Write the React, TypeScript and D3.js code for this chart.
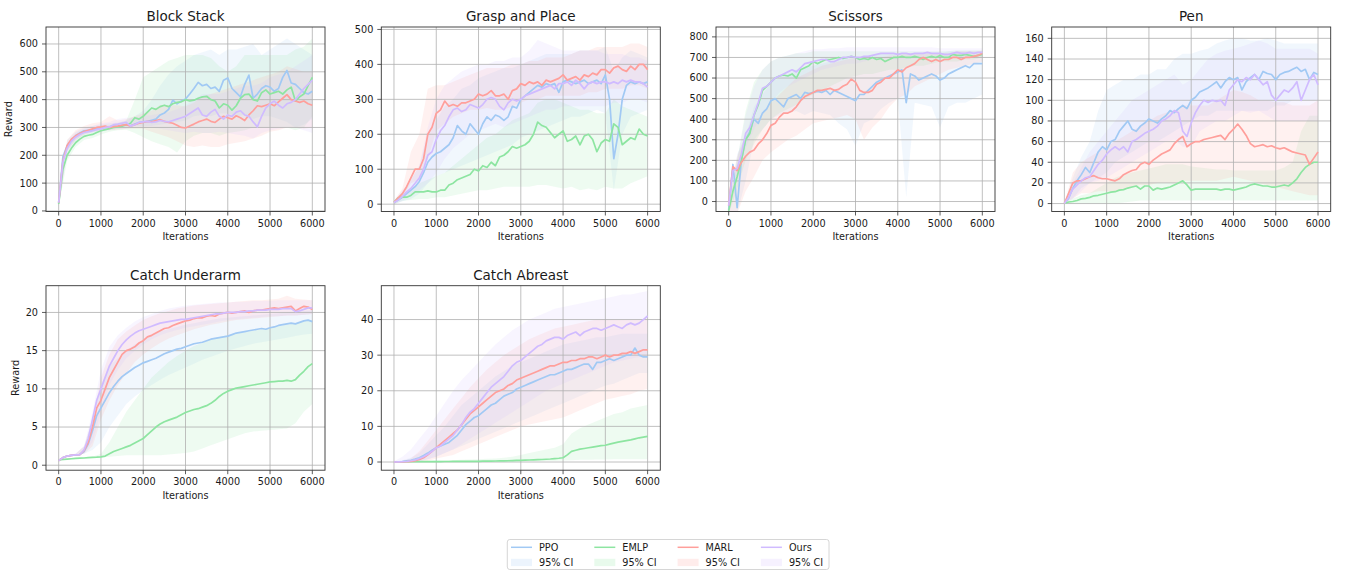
import React from 'react';
import * as d3 from 'd3';

// iteration grids: mean curves every 100, CI bands every 200
const ITERS = d3.range(0, 6001, 100);
const CI_ITERS = d3.range(0, 6001, 200);
const X_TICKS = [0, 1000, 2000, 3000, 4000, 5000, 6000];

const SERIES = ['PPO', 'EMLP', 'MARL', 'Ours'];
const COLORS = ['#a1c9f4', '#8de5a1', '#ff9f9b', '#d0bbff'];

// ---- Block Stack ----
const blockPPO = [30,195,235,255,270,280,288,290,292,295, 298,300,302,305,303,308,310,306,312,318, 320,322,326,330,345,352,365,398,385,395, 402,420,440,462,450,455,440,445,430,470, 478,440,425,410,455,488,405,420,440,450, 445,430,440,480,505,460,455,440,425,420, 430];
const blockEMLP = [25,150,200,225,245,258,268,272,275,282, 288,292,296,300,302,305,310,315,335,330, 340,355,370,365,375,380,375,385,390,392, 400,395,398,405,410,412,400,395,370,385, 380,362,378,405,418,420,400,395,425,435, 420,425,430,420,435,445,395,410,420,450, 480];
const blockMARL = [30,180,235,258,270,278,285,290,295,300, 302,305,300,303,305,308,310,305,310,315, 318,322,320,325,328,322,318,315,308,300, 298,305,312,320,325,330,322,318,330,340, 335,330,342,335,325,345,360,378,375,380, 385,378,392,405,418,400,395,390,395,385, 380];
const blockOurs = [30,175,225,250,265,275,282,285,288,292, 295,300,302,310,312,315,318,305,310,318, 320,322,318,320,325,322,320,325,330,335, 340,350,360,370,345,340,355,365,340,330, 345,340,355,360,345,340,320,302,340,370, 385,395,380,370,385,390,400,420,440,455, 470];
const blockPPOLo = [20,215,255,275,282,288,292,295,300,305, 305,305,310,315,320,325,340,345,340,350, 350,340,345,330,340,340,330,320,300,310, 330];
const blockPPOHi = [40,255,285,300,305,310,315,318,325,340, 360,400,450,490,520,540,560,570,580,560, 580,580,590,600,560,580,600,620,600,580, 560];
const blockEMLPLo = [15,180,230,255,262,275,285,290,292,280, 265,250,240,230,210,250,270,280,280,270, 280,285,290,300,300,300,300,300,290,300, 340];
const blockEMLPHi = [35,230,265,285,290,302,308,315,325,400, 480,500,520,540,550,560,560,560,550,520, 500,520,560,560,560,560,560,560,580,590, 620];
const blockMARLLo = [20,215,255,275,285,290,290,292,295,295, 295,285,275,265,250,235,230,235,230,230, 240,245,250,260,270,285,290,300,300,295, 300];
const blockMARLHi = [40,255,290,305,315,320,340,325,330,340, 350,360,380,380,380,375,390,410,420,430, 440,450,460,470,480,490,500,520,510,500, 500];
const blockOursLo = [20,205,250,270,280,285,290,295,295,300, 300,300,295,290,285,280,285,280,280,285, 280,275,270,260,280,290,295,300,300,290, 280];
const blockOursHi = [40,245,280,295,305,315,320,330,335,335, 340,345,350,355,365,380,400,420,420,420, 430,440,450,450,460,480,490,500,520,540, 560];

// ---- Grasp and Place ----
const graspPPO = [5,12,20,30,40,50,65,90,120,135, 145,150,160,170,190,225,210,200,230,215, 200,230,250,240,255,250,240,250,280,275, 300,310,320,330,340,335,345,340,345,320, 350,355,350,345,350,355,345,350,355,345, 370,300,130,200,300,340,350,345,350,345, 350];
const graspEMLP = [5,18,20,20,25,35,35,35,38,35, 35,40,40,55,60,70,75,80,85,100, 95,110,105,120,110,135,140,150,165,160, 165,170,180,200,235,225,220,205,190,200, 210,180,185,195,170,195,200,185,150,175, 185,180,230,220,170,180,190,185,215,200, 195];
const graspMARL = [5,18,30,50,75,100,100,130,200,220, 260,270,295,280,285,280,290,290,295,300, 315,310,315,325,310,310,315,300,325,330, 345,340,350,345,350,340,355,350,355,360, 370,355,360,365,355,370,365,375,370,385, 385,375,390,395,385,380,395,385,400,400, 385];
const graspOurs = [5,12,22,35,45,60,75,100,140,150, 185,210,225,250,270,275,265,270,285,280, 275,285,300,305,300,280,270,290,300,295, 300,310,315,320,325,330,335,340,330,345, 345,350,340,355,345,330,345,350,345,350, 350,345,350,345,355,350,355,350,350,345, 335];
const graspPPOLo = [0,8,15,30,60,80,90,100,110,120, 130,140,150,160,170,190,200,210,220,230, 240,250,250,260,270,260,40,200,250,260, 270];
const graspPPOHi = [10,40,70,110,200,240,280,300,330,340, 360,370,380,390,390,400,410,420,430,430, 430,430,440,440,440,450,380,420,440,430, 420];
const graspEMLPLo = [0,10,12,15,15,20,20,25,30,35, 40,40,45,50,50,50,50,55,55,50, 45,50,40,45,40,50,45,45,60,70, 80];
const graspEMLPHi = [10,30,40,60,70,80,90,110,130,150, 170,190,200,220,240,250,260,290,300,300, 290,280,270,270,260,260,300,280,270,260, 250];
const graspMARLLo = [0,20,60,70,130,210,230,250,260,270, 270,275,270,270,280,290,300,300,310,310, 310,310,310,320,320,330,330,330,340,340, 330];
const graspMARLHi = [10,45,150,200,330,340,340,350,360,370, 380,390,390,390,400,400,410,410,420,420, 420,430,440,440,450,450,450,450,460,460, 450];
const graspOursLo = [0,10,25,40,60,90,130,160,180,200, 210,220,230,220,230,240,250,260,270,270, 280,280,280,280,280,280,290,290,300,300, 290];
const graspOursHi = [10,35,70,110,220,300,340,360,380,390, 400,400,410,410,420,420,440,470,460,450, 440,440,440,440,440,430,430,430,420,420, 410];

// ---- Scissors ----
const scissPPO = [-40,180,-30,200,300,340,400,380,430,450, 490,500,480,460,500,510,520,500,530,525, 530,535,530,540,520,540,530,520,510,500, 490,520,520,540,560,580,590,600,610,620, 630,640,480,620,610,590,600,610,620,610, 590,600,620,630,640,650,660,650,670,670, 670];
const scissEMLP = [-45,50,120,200,300,330,420,470,540,560, 580,600,610,615,610,620,600,640,650,660, 680,670,680,690,690,695,700,695,700,705, 700,690,695,690,700,690,695,680,690,700, 700,705,700,700,705,700,690,700,705,700, 710,700,700,715,710,710,715,710,705,710, 715];
const scissMARL = [-20,170,150,190,220,240,250,280,300,330, 370,380,410,430,430,440,460,490,510,520, 530,540,540,545,550,540,545,560,570,595, 580,540,530,530,540,570,580,600,600,620, 640,630,650,660,670,690,700,690,680,690, 680,690,690,700,700,690,700,700,705,710, 720];
const scissOurs = [-20,150,160,230,330,360,420,480,550,560, 580,600,610,620,630,640,630,650,670,675, 680,685,690,690,680,680,690,700,700,705, 700,700,705,705,710,715,720,720,720,720, 715,720,720,715,720,720,720,725,720,720, 720,715,715,720,725,720,720,725,720,725, 725];
const scissPPOLo = [-60,-60,100,300,350,400,420,430,440,420, 440,430,420,380,350,270,380,400,450,480, 500,20,480,470,460,360,460,480,480,500, 520];
const scissPPOHi = [-20,230,320,460,520,580,600,620,640,650, 660,670,680,690,700,700,700,710,720,720, 720,720,720,720,720,720,730,730,730,730, 730];
const scissEMLPLo = [-60,60,200,280,350,400,430,450,470,500, 520,540,560,580,600,610,620,620,630,640, 640,650,660,660,670,680,680,680,690,690, 700];
const scissEMLPHi = [-30,200,440,580,640,680,700,710,720,720, 730,730,730,730,730,730,730,730,730,730, 730,730,730,730,730,730,730,735,735,735, 735];
const scissMARLLo = [-50,-60,50,120,200,240,270,300,320,350, 380,390,400,410,420,400,300,360,400,460, 500,520,560,580,600,620,640,650,660,670, 680];
const scissMARLHi = [0,220,320,380,430,480,520,560,600,620, 640,660,670,680,690,700,700,700,700,710, 710,720,720,720,720,720,720,730,730,730, 730];
const scissOursLo = [-50,120,260,350,430,480,530,560,580,600, 620,640,650,660,670,670,680,690,690,690, 690,690,695,695,700,700,700,700,700,705, 705];
const scissOursHi = [0,200,420,560,640,680,700,710,720,730, 740,740,745,745,750,750,750,750,750,750, 750,750,750,750,750,745,745,745,745,745, 745];

// ---- Pen ----
const penPPO = [0,5,15,22,28,35,30,40,50,55, 52,60,62,70,75,80,72,70,75,78, 82,80,78,82,85,90,88,92,95,92, 100,103,108,110,112,115,118,112,118,122, 120,122,110,118,122,125,120,128,126,125, 120,125,127,128,130,132,128,130,120,127, 125];
const penEMLP = [0,1.5,2,3,4.5,5,6,7.5,8,9, 10,11,11.5,13,13.5,15,16,17,14,17, 17,13,15,14,15,16,18,20,22,18, 13,14,14,14,14,14,14,13,14,14, 13,14,15,16,18,19,18,17,17,16, 16,17,18,17,20,24,30,35,38,40, 40];
const penMARL = [0,10,20,22,22,24,26,27,25,24, 24,23,22,24,28,30,32,33,38,40, 38,42,45,48,50,52,58,62,65,55, 58,60,60,62,63,64,65,66,62,68, 72,77,72,66,58,55,56,57,55,56, 54,53,54,52,50,49,48,47,38,44, 50];
const penOurs = [0,6,14,18,22,25,26,32,38,42, 48,52,55,52,55,50,60,62,65,68, 70,72,75,80,82,85,90,88,70,65, 78,88,95,100,98,100,99,100,95,110, 115,120,118,122,120,125,120,115,118,105, 100,105,110,108,112,118,100,110,120,125, 115];
const penPPOLo = [0,5,15,20,25,30,40,45,50,55, 60,60,65,70,75,80,85,85,90,90, 90,90,90,90,90,95,95,100,100,100, 100];
const penPPOHi = [0,25,45,60,90,110,115,120,120,125, 125,130,130,140,145,145,148,150,155,158, 160,160,158,158,160,158,155,155,155,155, 155];
const penEMLPLo = [0,0,0,0,0,0,0,1,2,3, 3,3,3,3,3,3,3,3,3,3, 3,3,3,3,3,3,3,3,3,3, 3];
const penEMLPHi = [0,5,8,10,15,20,25,28,30,32, 34,36,38,38,38,36,35,34,33,33, 32,32,32,32,32,32,35,40,70,85, 85];
const penMARLLo = [0,5,10,10,12,12,12,14,16,18, 18,20,20,20,22,22,22,22,22,24, 26,24,22,20,18,16,14,12,10,8, 8];
const penMARLHi = [0,30,40,45,50,55,60,65,70,75, 80,85,88,90,95,95,95,95,100,105, 110,108,105,100,100,98,98,95,95,95, 100];
const penOursLo = [0,5,12,20,22,25,30,35,40,45, 50,55,60,62,55,55,70,75,80,80, 85,90,88,90,85,80,80,80,80,80, 80];
const penOursHi = [0,20,35,50,60,70,80,90,100,105, 110,115,120,125,115,120,130,140,145,148, 150,152,155,158,155,150,150,150,150,150, 145];

// ---- Catch Underarm ----
const underPPO = [0.6,1.0,1.2,1.3,1.35,1.4,1.8,2.8,4.5,6.5, 7.5,8.5,9.5,10.3,11,11.6,12,12.4,12.8,13.1, 13.4,13.6,13.8,14.0,14.3,14.6,14.8,15,15.2,15.3, 15.5,15.7,15.9,16,16.1,16.3,16.5,16.6,16.7,16.8, 16.9,17.1,17.3,17.4,17.5,17.6,17.7,17.8,17.9,17.8, 18,18.1,18.3,18.4,18.5,18.6,18.5,18.7,18.9,19, 18.8];
const underEMLP = [0.7,0.75,0.8,0.85,0.9,0.92,0.95,1.0,1.02,1.05, 1.1,1.2,1.5,1.8,2.0,2.2,2.4,2.6,2.9,3.2, 3.5,4,4.5,5,5.4,5.7,5.9,6.1,6.3,6.6, 6.9,7.1,7.3,7.4,7.6,7.8,8.1,8.5,9,9.4, 9.7,9.9,10.1,10.2,10.3,10.4,10.5,10.6,10.7,10.8, 10.9,10.95,11,11,11.1,11,11.2,11.8,12.3,12.9, 13.3];
const underMARL = [0.6,1.0,1.2,1.3,1.35,1.4,1.9,3,5,7.5, 8.5,10,11.5,12.5,13.5,14.5,15,15.2,15.5,16, 16.3,16.8,17,17.3,17.6,17.9,18,18.3,18.5,18.7, 18.9,19,19.2,19.3,19.3,19.5,19.6,19.5,19.8,19.9, 20,19.9,20,20.1,20.2,20,20.2,20.3,20.3,20.4, 20.5,20.6,20.5,20.6,20.7,20.8,20.2,20.5,20.8,20.7, 20.4];
const underOurs = [0.6,1.0,1.2,1.3,1.35,1.4,2,3.5,6,8.5, 10,11.5,13,14,15,15.8,16.4,16.9,17.3,17.6, 17.8,18,18.2,18.4,18.6,18.7,18.8,18.9,19,19.1, 19.1,19.2,19.3,19.4,19.5,19.6,19.7,19.8,19.8,19.9, 20,20,20,20.1,20.1,20.2,20.2,20.3,20.3,20.3, 20.4,20.4,20.4,20.5,20.5,20.5,20.1,20.2,20.4,20.6, 20.6];
const underPPOLo = [0.5,1.1,1.3,1.5,2,3,5,6.5,8,9, 9.8,10.5,11.2,11.8,12.3,12.8,13.3,13.8,14.2,14.6, 15,15.3,15.6,15.9,16.1,16.3,16.5,16.7,16.9,17.1, 17.2];
const underPPOHi = [0.7,1.3,1.5,2.5,6,10.5,13,14,15,15.8, 16.4,17,17.5,17.8,18.1,18.4,18.6,18.8,19,19.2, 19.3,19.4,19.5,19.6,19.7,19.8,19.9,20,20.1,20.2, 20.3];
const underEMLPLo = [0.6,0.7,0.8,0.9,1.0,1.0,1.1,1.2,1.3,1.3, 1.3,1.3,1.3,1.4,1.5,1.6,1.8,2.2,2.6,3.0, 3.4,3.8,4.2,4.4,4.5,4.6,4.7,4.8,5.5,7, 8];
const underEMLPHi = [0.8,0.9,0.9,1.0,1.1,1.5,3,5,7,8.5, 10,11.5,12.5,13.5,14.3,15,15.6,16,16.5,16.8, 17,17.2,17.4,17.6,17.8,18,18.2,18.4,18.6,18.8, 19];
const underMARLLo = [0.5,1.1,1.3,1.5,2.5,6,8.5,10.5,12,13.5, 14.5,15.3,16,16.6,17,17.4,17.8,18.1,18.4,18.6, 18.8,19,19.1,19.2,19.3,19.4,19.5,19.6,19.6,19.7, 19.8];
const underMARLHi = [0.7,1.3,1.5,2.5,6,11.5,14.5,16.5,17.5,18.3, 19,19.5,19.9,20.2,20.5,20.7,20.9,21,21.1,21.2, 21.3,21.4,21.5,21.6,21.6,21.7,21.8,22.2,21.8,21.7, 21.6];
const underOursLo = [0.5,1.1,1.3,1.5,3,7,10.5,12.5,14,15, 15.8,16.5,17,17.4,17.7,18,18.2,18.4,18.6,18.8, 19,19.1,19.2,19.3,19.4,19.5,19.5,19.6,19.6,19.7, 19.8];
const underOursHi = [0.7,1.3,1.5,2.5,7,12.5,15.5,17,18,18.8, 19.4,19.8,20.2,20.5,20.7,20.9,21,21.1,21.2,21.3, 21.3,21.4,21.4,21.5,21.5,21.5,21.6,21.6,21.6,21.6, 21.6];

// ---- Catch Abreast ----
const abreastPPO = [0,0,0.1,0.3,0.5,0.8,1.2,1.8,2.5,3.3, 4,4.5,5,5.5,6.5,7.5,9,10.5,11.5,12.5, 13,14,15,16,16.5,17.5,18.5,19,19.5,20.5, 21,21.5,22,22.5,23,23.5,24,24.5,24.5,25, 25.5,26,26,26.5,27,27.5,27.5,26,28,28, 28.5,29,28.5,29,29.5,30,30,32,30,29.5, 29.5];
const abreastEMLP = [0,0.05,0.05,0.08,0.08,0.1,0.1,0.1,0.1,0.12, 0.12,0.12,0.14,0.14,0.15,0.15,0.16,0.17,0.18,0.2, 0.2,0.22,0.24,0.26,0.28,0.3,0.33,0.36,0.4,0.44, 0.48,0.52,0.56,0.6,0.65,0.7,0.78,0.85,0.95,1.05, 1.2,2,3,3.3,3.6,3.8,4,4.2,4.4,4.6, 4.7,5,5.3,5.6,5.8,6,6.2,6.5,6.8,7, 7.2];
const abreastMARL = [0,0,0.05,0.1,0.2,0.4,0.7,1.2,2,3, 4,5,6,7,8,9,10.5,12,13.5,14.5, 15.5,16.5,17.5,18.5,19.5,20,20.5,21.5,22,23, 23.5,24,24.5,25,25.5,26,26.5,27,27,27.5, 28,28,28.5,28.5,29,29,29.5,29.5,29,29.5, 30,29.5,30,30,30.5,30.5,31,30.5,31,31.5, 31.5];
const abreastOurs = [0,0.05,0.1,0.2,0.35,0.6,1,1.5,2.2,3, 4,4.5,5.5,6.5,7.5,9,10.5,12.5,14,15, 16.5,18,19.5,21,22,23,24,25.5,27,28, 28.5,29.5,30.5,31.5,32.5,33,34,34.5,35,35, 34.5,35.5,36,36.5,35.5,36.5,37,37.5,37.5,37, 37.5,38,38.5,38,37.5,38.5,39,38.5,39,40, 41];
const abreastPPOLo = [0,0,0,0.2,0.8,1.5,2.5,3.5,4.5,5.5, 6.5,7.5,8.5,9.5,10.5,11.5,12.5,13.5,14.5,15.5, 16.5,17.5,18.5,19.5,20.5,21.5,22,23,24,25, 25];
const abreastPPOHi = [0.1,0.5,1.2,2.5,5,7.5,10,13,16,18, 20,22,24,25.5,27,28,29,30,31,32, 33,33.5,34,34.5,35,35,35.5,36,36,36, 36];
const abreastEMLPLo = [0,0,0,0,0,0,0,0,0,0, 0,0.1,0.1,0.1,0.1,0.2,0.2,0.2,0.3,0.3, 0.4,0.5,0.6,0.6,0.7,0.7,0.8,0.8,0.8,0.8, 0.8];
const abreastEMLPHi = [0,0.1,0.2,0.3,0.3,0.4,0.4,0.5,0.6,0.7, 0.8,0.9,1.0,1.2,1.5,2,2.5,3,3.5,4, 5,8,9.5,10.5,11.5,12.5,13.5,14,15,15.5, 16];
const abreastMARLLo = [0,0,0,0,0.3,1,1.5,2,3,4, 5,6,7,8,9,10,10.5,11,11.5,12, 12.5,13.5,14.5,15.5,16.5,17.5,18,18.5,19,20, 20.5];
const abreastMARLHi = [0.1,0.3,1,3,6,9,12,15,18,21, 23.5,26,28,30,31.5,33,34.5,35.5,36.5,37.5, 38,38.5,39,39.5,40,40,40,40,40,40, 40];
const abreastOursLo = [0,0,0,0.1,0.8,1.5,2.5,3.5,5,6.5, 8,9.5,11,12.5,14,15.5,17,18.5,20,21, 22,23,24,25,26,27,28,28.5,29,29.5, 30];
const abreastOursHi = [0.2,1.5,3.5,6.5,9.5,13,16.5,20,23,25.5, 28,30.5,33,35,37,38.5,40,41,42,43, 43.5,44,44.5,45,45.5,46,46.5,47,47,47.5, 48];

const PANELS = [
  { title: 'Block Stack', yDomain: [-2, 661], yTicks: [0, 100, 200, 300, 400, 500, 600], yLabel: true,
    mean: [blockPPO, blockEMLP, blockMARL, blockOurs],
    lo: [blockPPOLo, blockEMLPLo, blockMARLLo, blockOursLo],
    hi: [blockPPOHi, blockEMLPHi, blockMARLHi, blockOursHi] },
  { title: 'Grasp and Place', yDomain: [-21, 507], yTicks: [0, 100, 200, 300, 400, 500], yLabel: false,
    mean: [graspPPO, graspEMLP, graspMARL, graspOurs],
    lo: [graspPPOLo, graspEMLPLo, graspMARLLo, graspOursLo],
    hi: [graspPPOHi, graspEMLPHi, graspMARLHi, graspOursHi] },
  { title: 'Scissors', yDomain: [-48.5, 848], yTicks: [0, 100, 200, 300, 400, 500, 600, 700, 800], yLabel: false,
    mean: [scissPPO, scissEMLP, scissMARL, scissOurs],
    lo: [scissPPOLo, scissEMLPLo, scissMARLLo, scissOursLo],
    hi: [scissPPOHi, scissEMLPHi, scissMARLHi, scissOursHi] },
  { title: 'Pen', yDomain: [-7.7, 171], yTicks: [0, 20, 40, 60, 80, 100, 120, 140, 160], yLabel: false,
    mean: [penPPO, penEMLP, penMARL, penOurs],
    lo: [penPPOLo, penEMLPLo, penMARLLo, penOursLo],
    hi: [penPPOHi, penEMLPHi, penMARLHi, penOursHi] },
  { title: 'Catch Underarm', yDomain: [-0.65, 23.5], yTicks: [0, 5, 10, 15, 20], yLabel: true,
    mean: [underPPO, underEMLP, underMARL, underOurs],
    lo: [underPPOLo, underEMLPLo, underMARLLo, underOursLo],
    hi: [underPPOHi, underEMLPHi, underMARLHi, underOursHi] },
  { title: 'Catch Abreast', yDomain: [-2.3, 49.5], yTicks: [0, 10, 20, 30, 40], yLabel: false,
    mean: [abreastPPO, abreastEMLP, abreastMARL, abreastOurs],
    lo: [abreastPPOLo, abreastEMLPLo, abreastMARLLo, abreastOursLo],
    hi: [abreastPPOHi, abreastEMLPHi, abreastMARLHi, abreastOursHi] },
];

// layout
const PANEL_W = 279;
const PANEL_H = 184.5;
const ORIGINS = [[46, 27], [381.3, 27], [716, 27], [1051.7, 27], [46, 285.7], [381.3, 285.7]];
const FONT = '"DejaVu Sans", sans-serif';
const TEXT = '#1a1a1a';
const FS = 9.7;
const BAND_OPACITY = 0.15;

const Panel = ({ p, idx }: { p: typeof PANELS[number]; idx: number }) => {
  const [left, top] = ORIGINS[idx];
  const x = d3.scaleLinear().domain([-300, 6300]).range([0, PANEL_W]);
  const y = d3.scaleLinear().domain(p.yDomain).range([PANEL_H, 0]);
  const line = d3.line<number>().x((_, i) => x(ITERS[i])).y(d => y(d));
  const clipId = `clip-${idx}`;
  const yLabelX = -(Math.max(...p.yTicks.map(t => String(t).length)) * FS * 0.636 + 8 + 7);

  return (
    <g transform={`translate(${left},${top})`}>
      <defs>
        <clipPath id={clipId}>
          <rect width={PANEL_W} height={PANEL_H} />
        </clipPath>
      </defs>
      <g clipPath={`url(#${clipId})`}>
        {SERIES.map((s, si) => {
          const hi = p.hi[si];
          const area = d3.area<number>()
            .x((_, i) => x(CI_ITERS[i]))
            .y0(d => y(d))
            .y1((_, i) => y(hi[i]));
          return <path key={s} d={area(p.lo[si]) || ''} fill={COLORS[si]} fillOpacity={BAND_OPACITY} />;
        })}
      </g>
      {/* grid */}
      {X_TICKS.map(t => (
        <line key={`gx${t}`} x1={x(t)} x2={x(t)} y1={0} y2={PANEL_H} stroke="#b0b0b0" strokeWidth={0.8} />
      ))}
      {p.yTicks.map(t => (
        <line key={`gy${t}`} x1={0} x2={PANEL_W} y1={y(t)} y2={y(t)} stroke="#b0b0b0" strokeWidth={0.8} />
      ))}
      <g clipPath={`url(#${clipId})`}>
        {SERIES.map((s, si) => (
          <path key={s} d={line(p.mean[si]) || ''} fill="none" stroke={COLORS[si]}
            strokeWidth={1.7} strokeLinejoin="round" />
        ))}
      </g>
      <rect width={PANEL_W} height={PANEL_H} fill="none" stroke="#333" strokeWidth={0.9} />
      {/* x ticks */}
      {X_TICKS.map(t => (
        <g key={`xt${t}`} transform={`translate(${x(t)},${PANEL_H})`}>
          <line y1={0} y2={4} stroke="#333" strokeWidth={0.8} />
          <text y={15.3} textAnchor="middle" fontSize={FS} fontFamily={FONT} fill={TEXT}>{t}</text>
        </g>
      ))}
      {/* y ticks */}
      {p.yTicks.map(t => (
        <g key={`yt${t}`} transform={`translate(0,${y(t)})`}>
          <line x1={-4} x2={0} stroke="#333" strokeWidth={0.8} />
          <text x={-8} dy="0.35em" textAnchor="end" fontSize={FS} fontFamily={FONT} fill={TEXT}>{t}</text>
        </g>
      ))}
      <text x={PANEL_W / 2} y={-6} textAnchor="middle" fontSize={13.5} fontFamily={FONT} fill={TEXT}>{p.title}</text>
      <text x={PANEL_W / 2} y={PANEL_H + 28.5} textAnchor="middle" fontSize={FS} fontFamily={FONT} fill={TEXT}>Iterations</text>
      {p.yLabel && (
        <text transform={`translate(${yLabelX},${PANEL_H / 2}) rotate(-90)`} textAnchor="middle"
          fontSize={FS} fontFamily={FONT} fill={TEXT}>Reward</text>
      )}
    </g>
  );
};

const Legend = () => {
  const left = 507.3;
  const top = 539.5;
  const colW = 83.3;
  return (
    <g>
      <rect x={left} y={top} width={321.7} height={30} rx={2.5} fill="#fff" fillOpacity={0.8} stroke="#cccccc" strokeWidth={0.8} />
      {SERIES.map((s, si) => {
        const cx = left + 3.7 + si * colW;
        return (
          <g key={s}>
            <line x1={cx} x2={cx + 21} y1={top + 7.8} y2={top + 7.8} stroke={COLORS[si]} strokeWidth={1.5} />
            <text x={cx + 28} y={top + 11.3} fontSize={FS} fontFamily={FONT} fill={TEXT}>{s}</text>
            <rect x={cx} y={top + 19.3} width={21} height={7.3} fill={COLORS[si]} fillOpacity={0.2} />
            <text x={cx + 28} y={top + 26.3} fontSize={FS} fontFamily={FONT} fill={TEXT}>95% CI</text>
          </g>
        );
      })}
    </g>
  );
};

export default function App() {
  return (
    <svg width={1352} height={570} style={{ position: 'absolute', left: 0, top: 0, background: '#fff' }}>
      {PANELS.map((p, i) => <Panel key={p.title} p={p} idx={i} />)}
      <Legend />
    </svg>
  );
}
